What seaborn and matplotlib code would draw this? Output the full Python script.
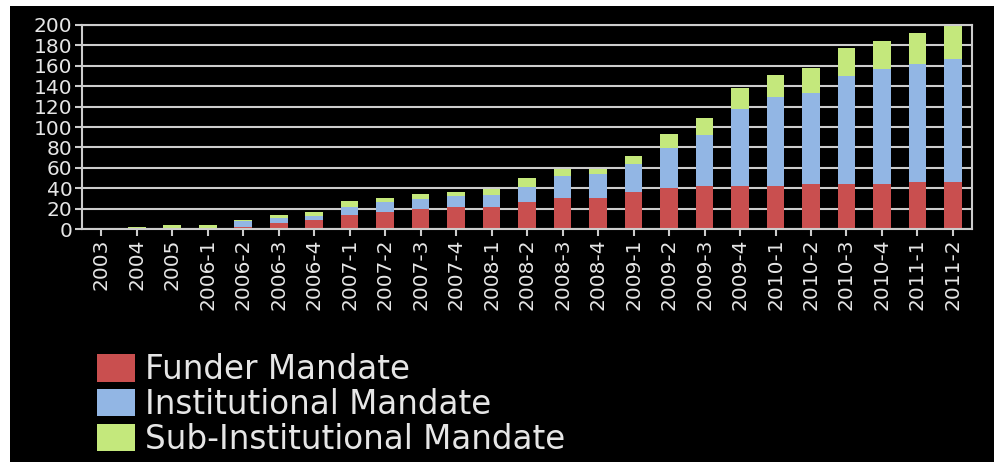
import pandas as pd
import matplotlib
matplotlib.use("Agg")
import matplotlib.pyplot as plt
from matplotlib.patches import Patch, Rectangle
import seaborn as sns

sns.set_style("dark")
plt.rcParams["font.family"] = ["DejaVu Sans"]

# ---------------------------------------------------------
# DATA
# ---------------------------------------------------------
periods = ["2003", "2004", "2005", "2006-1", "2006-2", "2006-3", "2006-4",
           "2007-1", "2007-2", "2007-3", "2007-4",
           "2008-1", "2008-2", "2008-3", "2008-4",
           "2009-1", "2009-2", "2009-3", "2009-4",
           "2010-1", "2010-2", "2010-3", "2010-4",
           "2011-1", "2011-2"]
funder = [0, 0, 0, 0, 2, 6, 9, 14, 17, 20, 22,
          22, 26, 30, 30, 36, 40, 42, 42, 42, 44, 44, 44, 46, 46]
institutional = [0, 0, 0, 0, 6, 5, 4, 8, 9, 9, 10,
                 11, 15, 22, 24, 28, 39, 50, 76, 87, 89, 106, 113, 116, 121]
sub_institutional = [0, 2, 4, 4, 1, 3, 4, 5, 4, 5, 4,
                     6, 9, 7, 5, 8, 14, 17, 20, 22, 25, 27, 27, 30, 32]
series_names = ["Funder Mandate", "Institutional Mandate", "Sub-Institutional Mandate"]
series_colors = ["#c94f4f", "#92b6e4", "#c4e87c"]

df = pd.DataFrame({"period": periods, "funder": funder,
                   "institutional": institutional, "sub": sub_institutional})
df["lvl1"] = df["funder"]
df["lvl2"] = df["funder"] + df["institutional"]
df["lvl3"] = df["lvl2"] + df["sub"]

FG = "#e6e6e6"

fig = plt.figure(figsize=(9.94, 4.62), dpi=100, facecolor="white")
fig.add_artist(Rectangle((10 / 994, 0), 1 - 10 / 994, 1 - 6 / 462,
                         transform=fig.transFigure, facecolor="black",
                         edgecolor="none", zorder=-10))

ax = fig.add_axes([0.0825, 0.5043, 0.978 - 0.0825, 0.9459 - 0.5043])
ax.set_facecolor("black")

# stacked bars: draw cumulative totals back to front
for col, color in zip(["lvl3", "lvl2", "lvl1"], series_colors[::-1]):
    sns.barplot(data=df, x="period", y=col, order=periods, color=color,
                saturation=1, width=0.5, linewidth=0, ax=ax)

ax.set_xlim(-0.54, len(periods) - 1 + 0.54)
ax.set_ylim(0, 200)
ax.set_yticks(range(0, 201, 20))
ax.set_xlabel("")
ax.set_ylabel("")
ax.set_axisbelow(True)
ax.yaxis.grid(True, color="#cccccc", linewidth=1.5)
ax.xaxis.grid(False)

for side in ["left", "right", "top", "bottom"]:
    ax.spines[side].set_visible(True)
    ax.spines[side].set_color("#cccccc")
    ax.spines[side].set_linewidth(1.5)

ax.tick_params(axis="both", colors="#cccccc", labelcolor=FG, labelsize=14.5,
               length=5, width=1.5, direction="out", pad=2,
               bottom=True, left=True)
ax.tick_params(axis="x", labelrotation=90)

handles = [Patch(facecolor=c, edgecolor="none") for c in series_colors]
fig.legend(handles, series_names, loc="upper left",
           bbox_to_anchor=(97 / 994, 1 - 353 / 462), frameon=False,
           fontsize=23.5, labelcolor=FG, handlelength=1.17, handleheight=0.92,
           handletextpad=0.3, labelspacing=0.06, borderpad=0, borderaxespad=0)

fig.savefig("out.png", dpi=100, facecolor=fig.get_facecolor())
plt.close(fig)
